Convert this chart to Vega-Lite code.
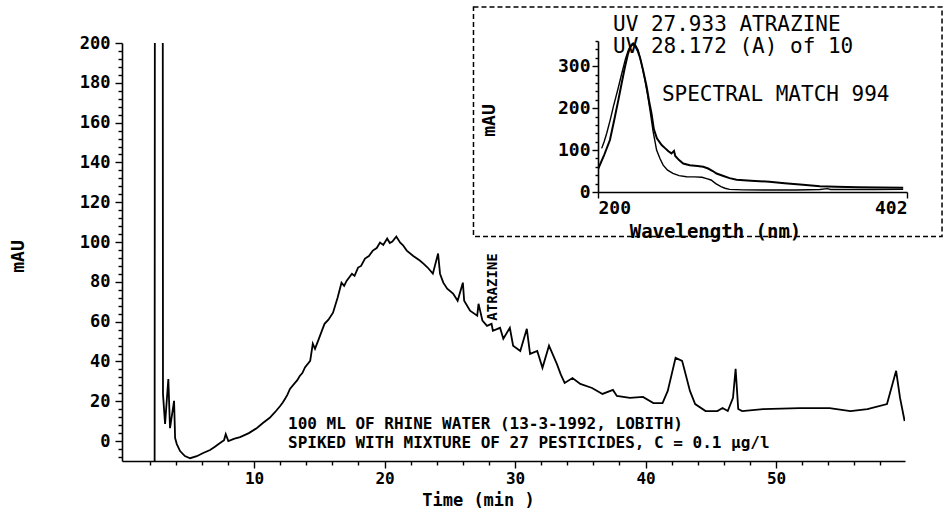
{
  "$schema": "https://vega.github.io/schema/vega-lite/v6.json",
  "width": 783,
  "height": 418,
  "autosize": {"type": "none"},
  "padding": {"left": 122, "top": 43, "right": 38, "bottom": 50},
  "background": "white",
  "config": {
    "view": {"stroke": null},
    "font": "DejaVu Sans Mono",
    "axis": {
      "grid": false, "domainColor": "#000", "domainWidth": 1.6, "tickColor": "#000", "tickWidth": 1.4,
      "labelColor": "#000", "titleColor": "#000", "labelFont": "DejaVu Sans Mono", "titleFont": "DejaVu Sans Mono",
      "labelFontSize": 17, "labelFontWeight": "bold", "titleFontSize": 18, "titleFontWeight": "bold"
    },
    "text": {"font": "DejaVu Sans Mono", "color": "#000"}
  },
  "datasets": {
    "chrom": [
      {"t": 2.38, "v": -10}, {"t": 2.42, "v": 500}, {"t": 2.98, "v": 500}, {"t": 3.02, "v": 23.7},
      {"t": 3.18, "v": 8.6}, {"t": 3.43, "v": 31.2}, {"t": 3.56, "v": 6.5}, {"t": 3.87, "v": 20.2},
      {"t": 3.95, "v": 1.5}, {"t": 4.08, "v": -1.5}, {"t": 4.33, "v": -5.0}, {"t": 4.7, "v": -7.5},
      {"t": 5.1, "v": -8.6}, {"t": 5.61, "v": -7.6}, {"t": 6.1, "v": -6.0}, {"t": 6.63, "v": -4.5},
      {"t": 7.0, "v": -2.8}, {"t": 7.39, "v": -1.0}, {"t": 7.7, "v": 0.5}, {"t": 7.83, "v": 3.5},
      {"t": 8.03, "v": 0}, {"t": 8.5, "v": 1.2}, {"t": 8.93, "v": 2.0}, {"t": 9.6, "v": 4.0},
      {"t": 10.2, "v": 6.5}, {"t": 10.7, "v": 9.2}, {"t": 11.2, "v": 11.7}, {"t": 11.6, "v": 14.5},
      {"t": 12.0, "v": 17.6}, {"t": 12.2, "v": 19.4}, {"t": 12.4, "v": 21.5}, {"t": 12.55, "v": 23.2}, {"t": 12.75, "v": 26.2}, {"t": 13.1, "v": 29},
      {"t": 13.3, "v": 30.5}, {"t": 13.5, "v": 32.7}, {"t": 13.7, "v": 34.2}, {"t": 13.9, "v": 37}, {"t": 14.3, "v": 40.3}, {"t": 14.5, "v": 48.9},
      {"t": 14.67, "v": 46.3}, {"t": 15.0, "v": 52}, {"t": 15.2, "v": 55.5}, {"t": 15.4, "v": 58.9}, {"t": 15.7, "v": 61},
      {"t": 16.05, "v": 64.5}, {"t": 16.4, "v": 72}, {"t": 16.7, "v": 79.6}, {"t": 16.9, "v": 78},
      {"t": 17.1, "v": 80.6}, {"t": 17.5, "v": 84.1}, {"t": 17.7, "v": 83}, {"t": 17.97, "v": 87.2},
      {"t": 18.2, "v": 88}, {"t": 18.5, "v": 91.7}, {"t": 18.8, "v": 93}, {"t": 19.1, "v": 95.7},
      {"t": 19.4, "v": 97}, {"t": 19.65, "v": 99.7}, {"t": 19.9, "v": 98.5}, {"t": 20.2, "v": 101.8},
      {"t": 20.4, "v": 99.5}, {"t": 20.6, "v": 100.3}, {"t": 20.9, "v": 102.8}, {"t": 21.2, "v": 99.7},
      {"t": 21.4, "v": 98.5}, {"t": 21.7, "v": 95.7}, {"t": 22.2, "v": 93}, {"t": 22.7, "v": 90.7},
      {"t": 23.0, "v": 89}, {"t": 23.3, "v": 87.2}, {"t": 23.7, "v": 84.1}, {"t": 24.1, "v": 94.2},
      {"t": 24.25, "v": 84.1}, {"t": 24.5, "v": 79.6}, {"t": 24.8, "v": 76.6}, {"t": 25.25, "v": 74.1},
      {"t": 25.6, "v": 70.5}, {"t": 26.0, "v": 79.6}, {"t": 26.1, "v": 70.5}, {"t": 26.55, "v": 65.5},
      {"t": 27.1, "v": 63.0}, {"t": 27.2, "v": 69.0}, {"t": 27.5, "v": 60.5}, {"t": 27.85, "v": 57.9},
      {"t": 28.2, "v": 58.9}, {"t": 28.3, "v": 55.4}, {"t": 28.85, "v": 56.9}, {"t": 29.1, "v": 51.4},
      {"t": 29.6, "v": 56.9}, {"t": 29.85, "v": 47.9}, {"t": 30.4, "v": 45.3}, {"t": 30.9, "v": 56.4},
      {"t": 31.15, "v": 43.8}, {"t": 31.7, "v": 45.3}, {"t": 32.1, "v": 36.8}, {"t": 32.6, "v": 47.9},
      {"t": 33.2, "v": 38.8}, {"t": 33.5, "v": 33.5}, {"t": 33.8, "v": 29.2}, {"t": 34.4, "v": 31.7}, {"t": 35.0, "v": 28.7},
      {"t": 35.9, "v": 26.7}, {"t": 36.7, "v": 23.7}, {"t": 37.5, "v": 25.7}, {"t": 37.8, "v": 22.7},
      {"t": 38.8, "v": 21.7}, {"t": 39.8, "v": 22.2}, {"t": 40.6, "v": 19.1}, {"t": 41.3, "v": 19.1},
      {"t": 41.7, "v": 25.2}, {"t": 42.3, "v": 41.8}, {"t": 42.8, "v": 40.3}, {"t": 43.0, "v": 35.3},
      {"t": 43.4, "v": 25.2}, {"t": 43.8, "v": 18.6}, {"t": 44.6, "v": 15.1}, {"t": 45.5, "v": 15.1},
      {"t": 45.9, "v": 16.6}, {"t": 46.3, "v": 15.1}, {"t": 46.7, "v": 21.7}, {"t": 46.9, "v": 36.3},
      {"t": 47.1, "v": 16.1}, {"t": 47.4, "v": 15.1}, {"t": 49.0, "v": 16.1}, {"t": 51.8, "v": 16.6},
      {"t": 54.1, "v": 16.6}, {"t": 55.7, "v": 15.1}, {"t": 57.0, "v": 16.1}, {"t": 58.5, "v": 18.6},
      {"t": 59.2, "v": 35.3}, {"t": 59.5, "v": 21.7}, {"t": 59.85, "v": 10.1}
    ],
    "notes": [
      {"t": 12.6, "v": 8.6, "txt": "100 ML OF RHINE WATER (13-3-1992, LOBITH)"},
      {"t": 12.6, "v": -1.0, "txt": "SPIKED WITH MIXTURE OF 27 PESTICIDES, C = 0.1 µg/l"}
    ],
    "peaklabel": [{"t": 28.3, "v": 60.5, "txt": "ATRAZINE"}],
    "box": [{"w": 118.6, "w2": 424.9, "a": -106, "a2": 441}],
    "spectra": [
      {"s": "27.933", "w": 200.2, "a": 56}, {"s": "27.933", "w": 204, "a": 88}, {"s": "27.933", "w": 207.8, "a": 124},
      {"s": "27.933", "w": 210.5, "a": 170}, {"s": "27.933", "w": 213.3, "a": 219}, {"s": "27.933", "w": 215.5, "a": 260},
      {"s": "27.933", "w": 217.6, "a": 298}, {"s": "27.933", "w": 219.5, "a": 328}, {"s": "27.933", "w": 221, "a": 345},
      {"s": "27.933", "w": 222.5, "a": 352}, {"s": "27.933", "w": 224, "a": 350}, {"s": "27.933", "w": 226, "a": 336},
      {"s": "27.933", "w": 227.5, "a": 320}, {"s": "27.933", "w": 229.5, "a": 290}, {"s": "27.933", "w": 231.8, "a": 251},
      {"s": "27.933", "w": 233.5, "a": 215}, {"s": "27.933", "w": 235, "a": 187}, {"s": "27.933", "w": 236.5, "a": 150},
      {"s": "27.933", "w": 238.5, "a": 128}, {"s": "27.933", "w": 241.6, "a": 112}, {"s": "27.933", "w": 244, "a": 104},
      {"s": "27.933", "w": 246, "a": 97}, {"s": "27.933", "w": 248, "a": 92}, {"s": "27.933", "w": 249.7, "a": 98},
      {"s": "27.933", "w": 250.5, "a": 86}, {"s": "27.933", "w": 253, "a": 76}, {"s": "27.933", "w": 255.7, "a": 68},
      {"s": "27.933", "w": 260, "a": 64}, {"s": "27.933", "w": 265, "a": 62}, {"s": "27.933", "w": 268.8, "a": 60},
      {"s": "27.933", "w": 272, "a": 56}, {"s": "27.933", "w": 275, "a": 50}, {"s": "27.933", "w": 277.5, "a": 44},
      {"s": "27.933", "w": 282, "a": 38}, {"s": "27.933", "w": 286, "a": 33}, {"s": "27.933", "w": 290.6, "a": 29},
      {"s": "27.933", "w": 300, "a": 27}, {"s": "27.933", "w": 312, "a": 24.6}, {"s": "27.933", "w": 322, "a": 21},
      {"s": "27.933", "w": 334, "a": 17}, {"s": "27.933", "w": 345, "a": 14}, {"s": "27.933", "w": 355.7, "a": 12.7},
      {"s": "27.933", "w": 370, "a": 11.5}, {"s": "27.933", "w": 385, "a": 11}, {"s": "27.933", "w": 399.5, "a": 10.3},
      {"s": "28.172", "w": 202.4, "a": 104}, {"s": "28.172", "w": 204, "a": 120}, {"s": "28.172", "w": 205.7, "a": 140},
      {"s": "28.172", "w": 208, "a": 172}, {"s": "28.172", "w": 210, "a": 203}, {"s": "28.172", "w": 213, "a": 245},
      {"s": "28.172", "w": 215.5, "a": 282}, {"s": "28.172", "w": 218, "a": 318}, {"s": "28.172", "w": 219.8, "a": 338},
      {"s": "28.172", "w": 221.5, "a": 350}, {"s": "28.172", "w": 223, "a": 355}, {"s": "28.172", "w": 224.8, "a": 348},
      {"s": "28.172", "w": 226.3, "a": 338}, {"s": "28.172", "w": 228.5, "a": 305}, {"s": "28.172", "w": 230.7, "a": 267},
      {"s": "28.172", "w": 232.5, "a": 230}, {"s": "28.172", "w": 234, "a": 195}, {"s": "28.172", "w": 236, "a": 145},
      {"s": "28.172", "w": 238.3, "a": 100}, {"s": "28.172", "w": 240.5, "a": 80}, {"s": "28.172", "w": 242.6, "a": 64},
      {"s": "28.172", "w": 245.5, "a": 52}, {"s": "28.172", "w": 249, "a": 44.5}, {"s": "28.172", "w": 253, "a": 39},
      {"s": "28.172", "w": 257.9, "a": 36.5}, {"s": "28.172", "w": 263, "a": 36}, {"s": "28.172", "w": 268, "a": 35},
      {"s": "28.172", "w": 271, "a": 32}, {"s": "28.172", "w": 273.9, "a": 28.6}, {"s": "28.172", "w": 277, "a": 20},
      {"s": "28.172", "w": 280.4, "a": 12.7}, {"s": "28.172", "w": 283, "a": 9}, {"s": "28.172", "w": 286, "a": 6.3},
      {"s": "28.172", "w": 295, "a": 5}, {"s": "28.172", "w": 310, "a": 4.8}, {"s": "28.172", "w": 330, "a": 4.8},
      {"s": "28.172", "w": 345, "a": 6}, {"s": "28.172", "w": 350, "a": 8}, {"s": "28.172", "w": 352, "a": 6},
      {"s": "28.172", "w": 360, "a": 6}, {"s": "28.172", "w": 380, "a": 6}, {"s": "28.172", "w": 399.5, "a": 6.3}
    ],
    "insettext": [
      {"w": 209.8, "a": 398, "txt": "UV 27.933 ATRAZINE"},
      {"w": 209.8, "a": 346, "txt": "UV 28.172 (A) of 10"},
      {"w": 241.8, "a": 231, "txt": "SPECTRAL MATCH 994"}
    ]
  },
  "layer": [
    {
      "encoding": {
        "x": {
          "field": "t", "type": "quantitative",
          "scale": {"domain": [-0.12, 59.88], "nice": false, "zero": false},
          "axis": {
            "title": "Time (min )",
            "values": [2,4,6,8,10,12,14,16,18,20,22,24,26,28,30,32,34,36,38,40,42,44,46,48,50,52,54,56,58],
            "labelExpr": "datum.value % 10 === 0 ? datum.label : ''",
            "tickSize": {"condition": {"test": "datum.value % 10 === 0", "value": 7}, "value": 4},
            "labelPadding": 2, "labelFontSize": 16,
            "titleX": 356, "titleY": 39, "titleBaseline": "middle", "titleFontSize": 17
          }
        },
        "y": {
          "field": "v", "type": "quantitative",
          "scale": {"domain": [-10, 200], "nice": false, "zero": false},
          "axis": {
            "title": "mAU",
            "values": [-8,-4,0,4,8,12,16,20,24,28,32,36,40,44,48,52,56,60,64,68,72,76,80,84,88,92,96,100,104,108,112,116,120,124,128,132,136,140,144,148,152,156,160,164,168,172,176,180,184,188,192,196,200],
            "labelExpr": "datum.value % 20 === 0 ? datum.label : ''",
            "tickSize": {"condition": {"test": "datum.value % 20 === 0", "value": 7}, "value": 4},
            "labelPadding": 5,
            "titleX": -95, "titleY": 213
          }
        }
      },
      "layer": [
        {
          "data": {"name": "chrom"},
          "mark": {"type": "line", "clip": true, "color": "#000", "strokeWidth": 1.8}
        },
        {
          "data": {"name": "notes"},
          "mark": {"type": "text", "align": "left", "baseline": "middle", "fontSize": 16, "fontWeight": "bold"},
          "encoding": {"text": {"field": "txt"}}
        },
        {
          "data": {"name": "peaklabel"},
          "mark": {"type": "text", "align": "left", "baseline": "middle", "angle": 270, "fontSize": 14, "fontWeight": "bold"},
          "encoding": {"text": {"field": "txt"}}
        }
      ]
    },
    {
      "encoding": {
        "x": {
          "field": "w", "type": "quantitative",
          "scale": {"domain": [200, 402], "range": [476, 785], "nice": false, "zero": false},
          "axis": {
            "orient": "bottom", "offset": -269, "zindex": 1,
            "title": "Wavelength (nm)",
            "values": [200, 402], "tickSize": 6, "labelPadding": 1, "labelFontSize": 18,
            "titleX": 593, "titleY": 39, "titleBaseline": "middle", "titleFontSize": 19
          }
        },
        "y": {
          "field": "a", "type": "quantitative",
          "scale": {"domain": [0, 360], "range": [149, -2], "nice": false, "zero": false},
          "axis": {
            "orient": "left", "offset": -476, "zindex": 1,
            "title": "mAU",
            "values": [0,20,40,60,80,100,120,140,160,180,200,220,240,260,280,300,320,340,360],
            "labelExpr": "datum.value % 100 === 0 ? datum.label : ''",
            "tickSize": {"condition": {"test": "datum.value % 100 === 0", "value": 6}, "value": 3},
            "labelPadding": 2, "labelFontSize": 18,
            "titleX": -100, "titleY": 77
          }
        }
      },
      "layer": [
        {
          "data": {"name": "box"},
          "mark": {"type": "rect", "fill": "white", "stroke": "#000", "strokeWidth": 1.5, "strokeDash": [5, 3]},
          "encoding": {"x2": {"field": "w2"}, "y2": {"field": "a2"}}
        },
        {
          "data": {"name": "spectra"},
          "mark": {"type": "line", "color": "#000"},
          "encoding": {
            "detail": {"field": "s"},
            "strokeWidth": {"field": "s", "type": "nominal", "scale": {"domain": ["27.933", "28.172"], "range": [2, 1.4]}, "legend": null}
          }
        },
        {
          "data": {"name": "insettext"},
          "mark": {"type": "text", "align": "left", "baseline": "middle", "fontSize": 21},
          "encoding": {"text": {"field": "txt"}}
        }
      ]
    }
  ],
  "resolve": {
    "scale": {"x": "independent", "y": "independent"},
    "axis": {"x": "independent", "y": "independent"}
  }
}
